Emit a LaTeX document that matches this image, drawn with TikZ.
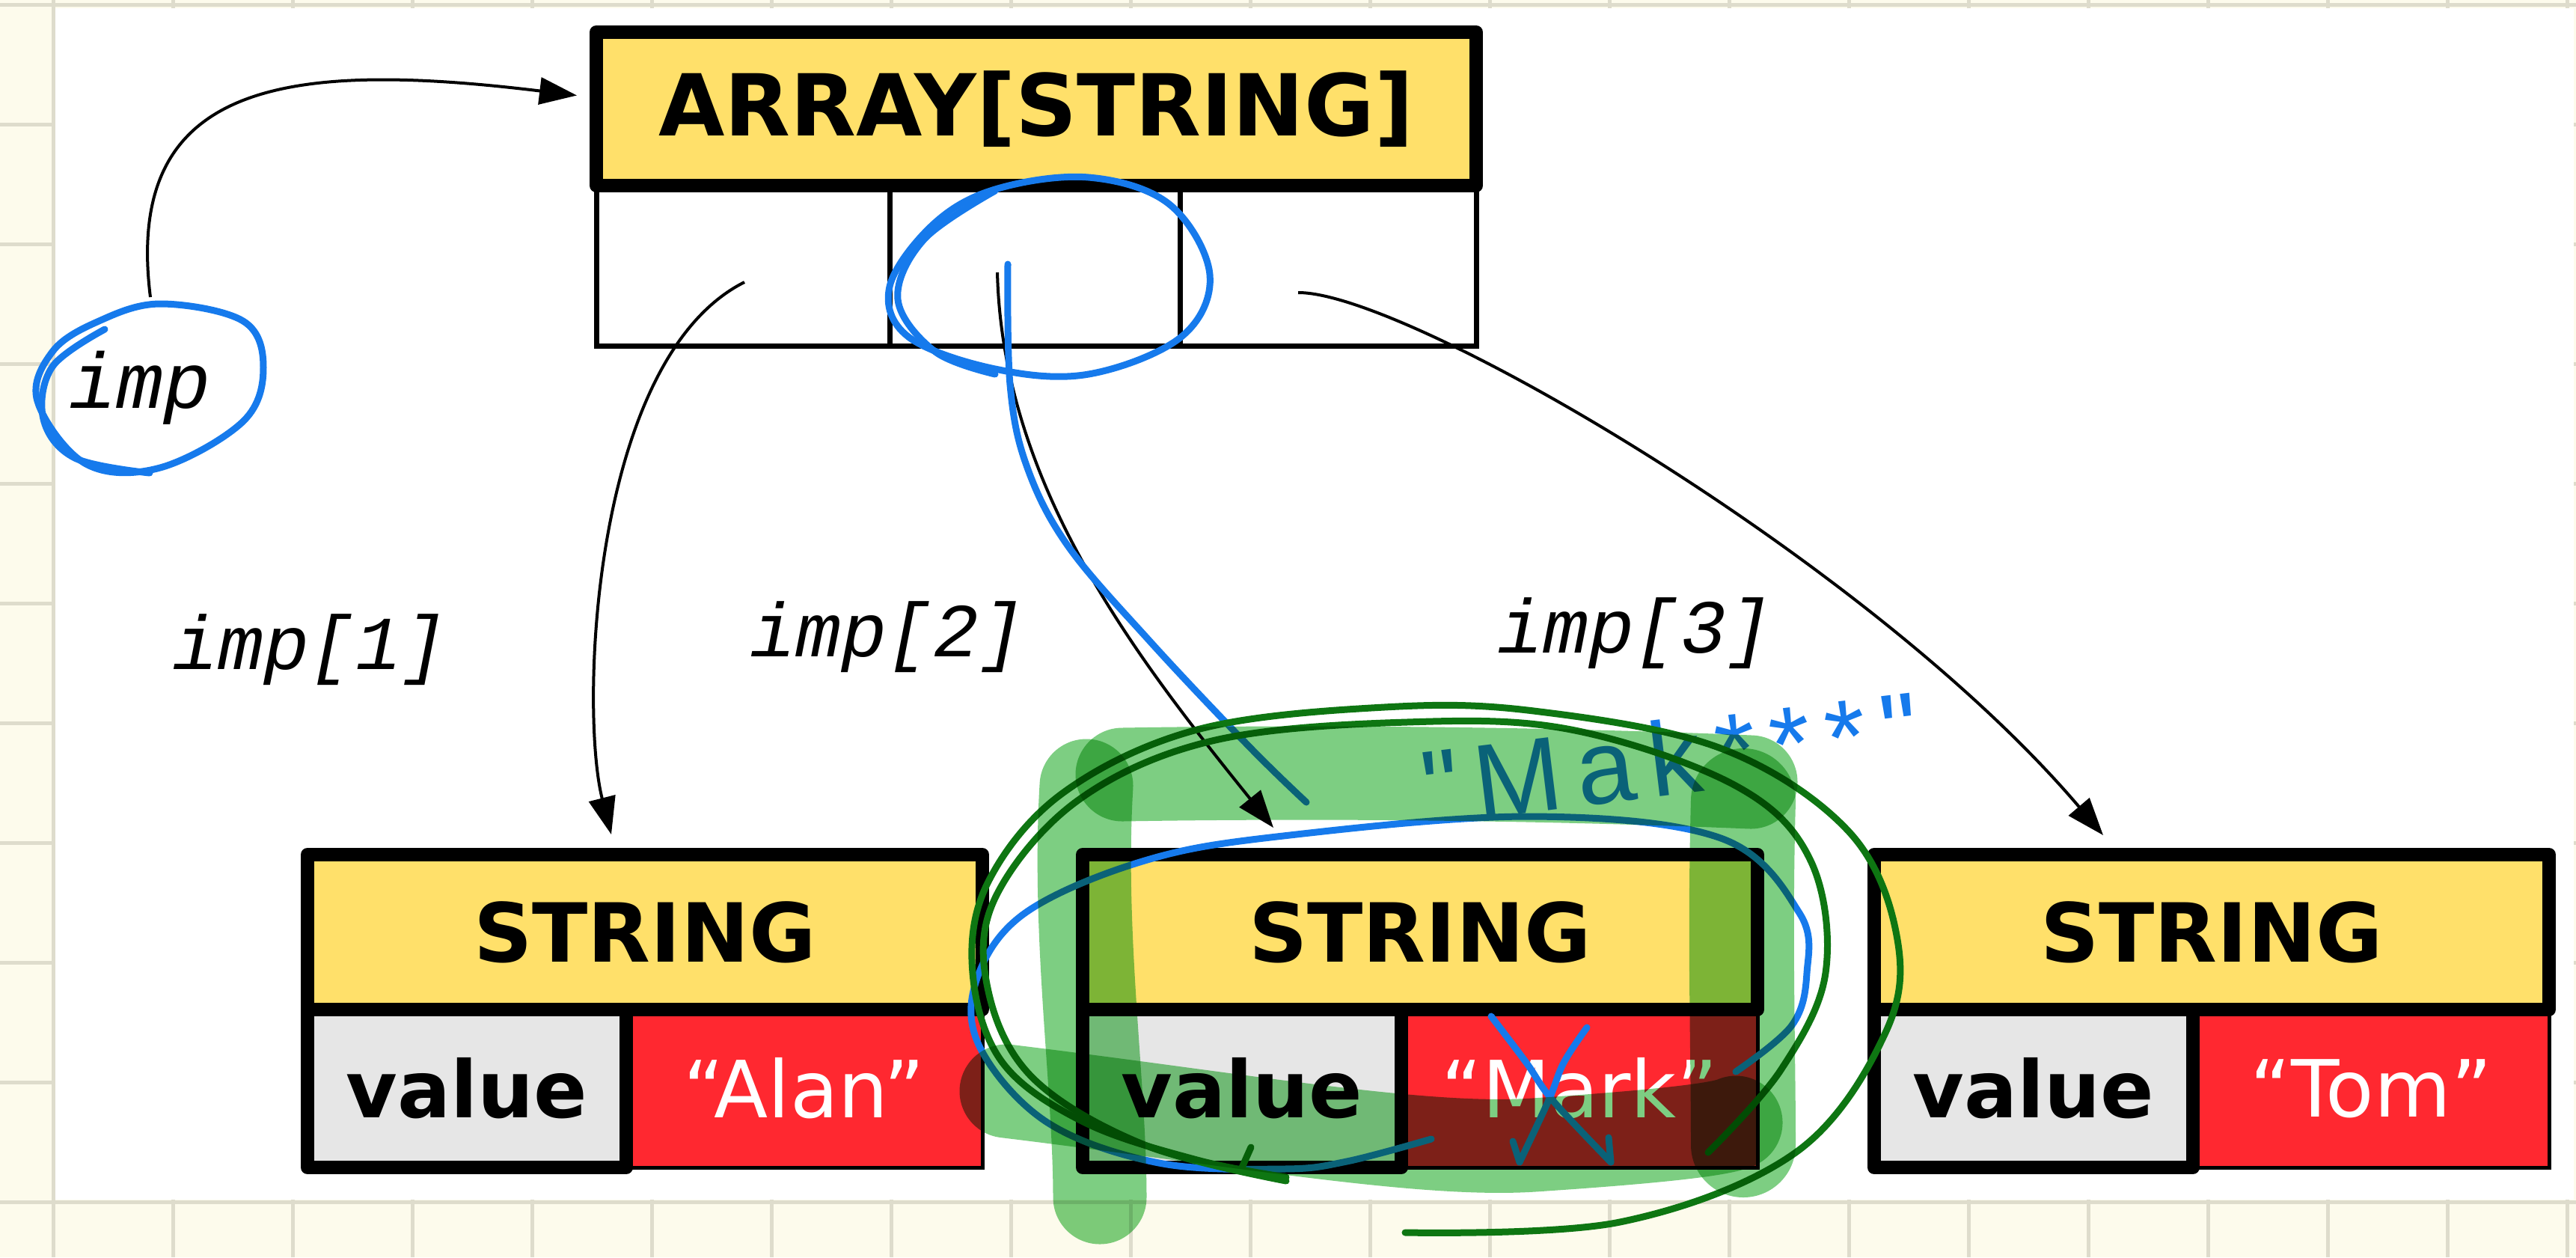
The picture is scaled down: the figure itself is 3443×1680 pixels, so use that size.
\documentclass[tikz,border=0pt]{standalone}
\usepackage{fontspec}
\setmainfont{DejaVu Sans}
\newfontfamily\monof{Liberation Mono}
\newfontfamily\handf[LetterSpace=14]{Liberation Sans}
\usetikzlibrary{arrows.meta}
\definecolor{paper}{RGB}{253,251,236}
\definecolor{gridc}{RGB}{222,220,204}
\definecolor{hdrY}{RGB}{255,224,106}
\definecolor{valG}{RGB}{230,230,230}
\definecolor{strR}{RGB}{255,40,48}
\definecolor{inkB}{RGB}{22,122,236}
\definecolor{inkG}{RGB}{14,118,18}
\definecolor{hiG}{RGB}{125,206,130}
\begin{document}
\begin{tikzpicture}[x=0.1mm,y=-0.1mm,
  hdr/.style={draw=black, line width=1.8mm, fill=hdrY, line join=round, inner sep=0pt,
    font=\bfseries\fontsize{31}{36}\selectfont},
  cellbox/.style={draw=black, line width=0.7mm, fill=white, inner sep=0pt},
  valbox/.style={draw=black, line width=1.8mm, fill=valG, line join=round, inner sep=0pt,
    minimum width=42.6mm, minimum height=21.1mm, font=\bfseries\fontsize{30}{36}\selectfont},
  strbox/.style={draw=black, line width=0.5mm, fill=strR, text=white, inner sep=0pt,
    minimum width=47.6mm, minimum height=21.1mm, font=\fontsize{30}{36}\selectfont},
  shdr/.style={hdr, minimum width=90.2mm, minimum height=20.7mm},
  lbl/.style={font=\monof\itshape\fontsize{29}{34}\selectfont},
  arrw/.style={-{Triangle[length=5mm,width=3.6mm]}, line width=0.4mm, black},
  blueink/.style={draw=inkB, line width=0.9mm, line cap=round, line join=round},
  greenink/.style={draw=inkG, line width=0.9mm, line cap=round, line join=round},
  hilite/.style={draw=hiG, line width=12.5mm, line cap=round, line join=round}
]
\useasboundingbox (0,0) rectangle (3443,1680);
% notebook page
\fill[paper] (0,0) rectangle (3443,1680);
\foreach \x in {71,231,...,3431} \draw[gridc, line width=0.5mm] (\x,0) -- (\x,1680);
\foreach \y in {6,166,...,1606} \draw[gridc, line width=0.5mm] (0,\y) -- (3443,\y);
\fill[white] (74,11) rectangle (3440,1603);

% array
\node[cellbox, minimum width=39.2mm, minimum height=21.4mm] (cell1) at (993,355) {};
\node[cellbox, minimum width=38.8mm, minimum height=21.4mm] (cell2) at (1383,355) {};
\node[cellbox, minimum width=39.6mm, minimum height=21.4mm] (cell3) at (1775,355) {};
\node[hdr, minimum width=117.6mm, minimum height=20.5mm, font=\bfseries\fontsize{32.5}{38}\selectfont] (arrayhdr) at (1385,145.5) {ARRAY[STRING]};

% string objects
\node[strbox] (s1v) at (1075,1454.5) {“Alan”};
\node[valbox] (s1k) at (624,1454.5) {value};
\node[shdr] (s1h) at (862,1245.5) {STRING};

\node[strbox] (s2v) at (2111,1454.5) {“Mark”};
\node[valbox] (s2k) at (1660,1454.5) {value};
\node[shdr] (s2h) at (1898,1245.5) {STRING};

\node[strbox] (s3v) at (3169,1454.5) {“Tom”};
\node[valbox] (s3k) at (2718,1454.5) {value};
\node[shdr] (s3h) at (2956,1245.5) {STRING};

% labels
\node[font=\monof\itshape\fontsize{30}{34}\selectfont] (imp) at (187,518) {imp};
\node[lbl] (l1) at (414,868) {imp[1]};
\node[lbl] (l2) at (1186,851) {imp[2]};
\node[lbl] (l3) at (2185,846) {imp[3]};

% connectors
\draw[arrw] ([shift={(14,-121)}]imp.center) .. controls (165,110) and (380,80) .. ([shift={(-17,-18)}]arrayhdr.west);
\draw[arrw] ([shift={(2,22)}]cell1.center) .. controls (790,480) and (775,950) .. ([shift={(-45,-18)}]s1h.north);
\draw[arrw] ([shift={(-50,9)}]cell2.center) .. controls (1340,650) and (1520,880) .. ([shift={(-196,-27)}]s2h.north);
\draw[arrw] ([shift={(-40,36)}]cell3.center) .. controls (1880,390) and (2500,750) .. ([shift={(-145,-17)}]s3h.north);

% blue ink
\draw[blueink] plot[smooth cycle, tension=0.6] coordinates {(214,406) (325,429) (352,491) (325,563) (214,625) (115,620) (50,536) (70,470) (130,430)};
\draw[blueink] plot[smooth, tension=0.6] coordinates {(140,440) (70,490) (58,560) (100,612) (200,632)};
\draw[blueink] plot[smooth cycle, tension=0.6] coordinates {(1455,237) (1563,273) (1617,367) (1579,450) (1455,500) (1330,493) (1214,450) (1189,383) (1247,300) (1330,253)};
\draw[blueink] plot[smooth, tension=0.6] coordinates {(1330,255) (1235,320) (1200,400) (1250,470) (1330,500)};
\draw[blueink] plot[smooth, tension=0.6] coordinates {(1347,353) (1350,514) (1372,622) (1427,729) (1537,857) (1669,997) (1746,1072)};
\draw[blueink] plot[smooth, tension=0.6] coordinates {(1913,1522) (1800,1552) (1715,1562) (1549,1554) (1400,1500) (1310,1400) (1305,1310) (1370,1220) (1530,1150) (1715,1117) (2046,1091) (2300,1120) (2405,1220) (2415,1300) (2395,1370) (2320,1432)};
\draw[blueink] plot[smooth, tension=0.6] coordinates {(1993,1358) (2040,1420) (2075,1470) (2153,1553)};
\draw[blueink] (2153,1553) -- (2150,1520);
\draw[blueink] plot[smooth, tension=0.6] coordinates {(2121,1373) (2090,1420) (2070,1470) (2031,1553)};
\draw[blueink] (2031,1553) -- (2022,1525);
\node[text=inkB, font=\handf\fontsize{40}{46}\selectfont, rotate=7] (hw) at (2233,1012) {"Mak***"};

% dark green ink
\draw[greenink] plot[smooth, tension=0.6] coordinates {(1878,1647) (2165,1633) (2400,1540) (2520,1380) (2535,1250) (2470,1110) (2300,1000) (2050,950) (1850,945) (1600,975) (1420,1060) (1320,1180) (1300,1300) (1340,1420) (1450,1500) (1600,1550) (1719,1573)};
\draw[greenink] plot[smooth, tension=0.6] coordinates {(2283,1540) (2380,1430) (2440,1300) (2420,1150) (2320,1050) (2100,975) (1880,965) (1620,990) (1440,1070) (1330,1200) (1320,1320) (1380,1440) (1530,1530) (1719,1578)};
\draw[greenink] (1672,1533) -- (1660,1560);

% highlighter
\begin{scope}[blend mode=multiply]
\draw[hilite] (1452,1050) .. controls (1440,1250) and (1470,1450) .. (1470,1600);
\end{scope}
\begin{scope}[blend mode=multiply]
\draw[hilite] (1500,1035) .. controls (1800,1030) and (2100,1035) .. (2340,1045);
\end{scope}
\begin{scope}[blend mode=multiply]
\draw[hilite, line width=14mm] (2330,1070) .. controls (2325,1250) and (2330,1400) .. (2330,1530);
\end{scope}
\begin{scope}[blend mode=multiply]
\draw[hilite] (1345,1458) .. controls (1650,1495) and (1900,1540) .. (2050,1530) .. controls (2200,1520) and (2300,1510) .. (2320,1500);
\end{scope}
\end{tikzpicture}
\end{document}
